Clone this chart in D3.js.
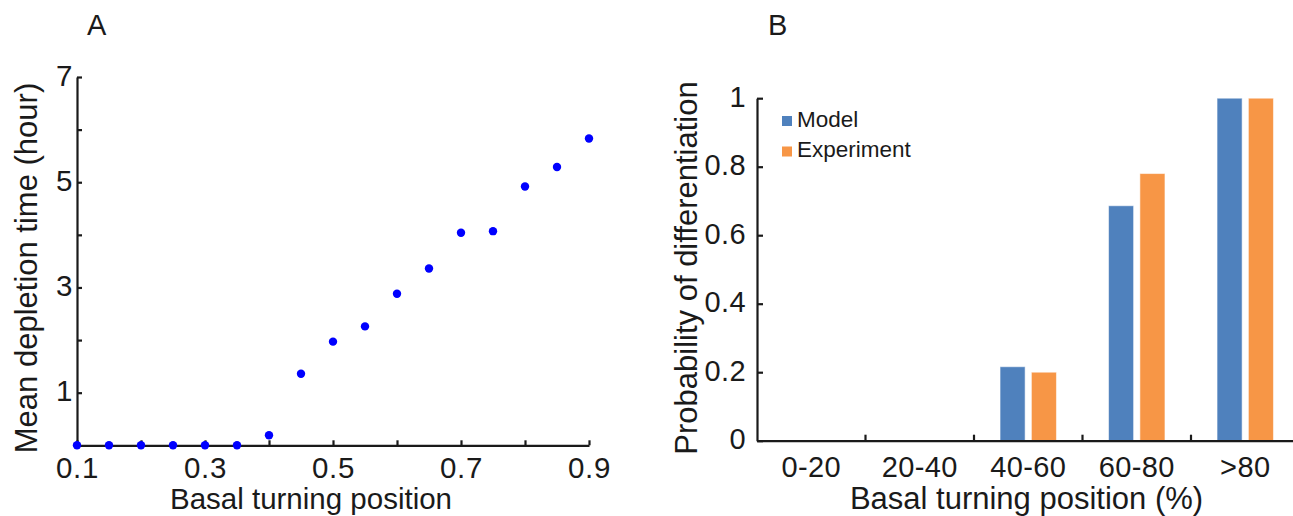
<!DOCTYPE html>
<html><head><meta charset="utf-8">
<script src="https://cdn.jsdelivr.net/npm/d3@7"></script>
<style>
body{margin:0;background:#fff;}
svg{display:block;font-family:"Liberation Sans",Arial,sans-serif;}
</style></head>
<body><svg id="c" width="1293" height="516"></svg>
<script>
// Panel A data
const positionsA = [0.1,0.15,0.2,0.25,0.3,0.35,0.4,0.45,0.5,0.55,0.6,0.65,0.7,0.75,0.8,0.85,0.9];
const depletionTime = [0,0,0,0,0,0,0.19,1.36,1.97,2.26,2.88,3.36,4.04,4.07,4.92,5.29,5.83];
const xTicksA = [0.1,0.2,0.3,0.4,0.5,0.6,0.7,0.8,0.9];
const yTicksA = [1,2,3,4,5,6,7];
// Panel B data
const categoriesB = ["0-20","20-40","40-60","60-80",">80"];
const seriesB = ["Model","Experiment"];
const modelValues = [0,0,0.216,0.686,1];
const experimentValues = [0,0,0.2,0.78,1];
const yTicksB = [0,0.2,0.4,0.6,0.8,1];
const colorsB = ["#4F81BD","#F79646"];

const svg = d3.select("#c");
const ink = "#1a1a1a";

// ---------- Panel A ----------
const xA = d3.scaleLinear().domain([0.1,0.9]).range([77,589]);
const yA = d3.scaleLinear().domain([0,7]).range([445.3,77]);
const gA = svg.append("g");

const axA = gA.append("g").attr("transform","translate(0,445.3)")
  .call(d3.axisBottom(xA).tickValues(xTicksA).tickSize(-5).tickSizeOuter(0).tickPadding(11.5)
    .tickFormat(d => [0.1,0.3,0.5,0.7,0.9].some(v=>Math.abs(v-d)<1e-9) ? d3.format(".1f")(d) : ""));
const ayA = gA.append("g").attr("transform","translate(77,0)")
  .call(d3.axisLeft(yA).tickValues(yTicksA).tickSize(-5).tickSizeOuter(0).tickPadding(4)
    .tickFormat(d => d % 2 ? d : ""));
[axA, ayA].forEach(a=>{
  a.selectAll("path,line").attr("stroke",ink).attr("stroke-width",2.2);
  a.selectAll("text").attr("fill",ink).attr("font-size",29.5).attr("letter-spacing","0.6px")
    .attr("font-family","Liberation Sans, Arial, sans-serif");
});
ayA.selectAll("text").attr("dy","0.28em");

gA.selectAll("circle").data(positionsA).join("circle")
  .attr("cx",(d)=>xA(d)).attr("cy",(d,i)=>yA(depletionTime[i])).attr("r",4.2).attr("fill","#0000FF");

gA.append("text").attr("x",311).attr("y",509).attr("text-anchor","middle")
  .attr("font-size",29.5).attr("fill",ink).text("Basal turning position");
gA.append("text").attr("transform","translate(37,268) rotate(-90)").attr("text-anchor","middle")
  .attr("font-size",31).attr("fill",ink).text("Mean depletion time (hour)");
gA.append("text").attr("x",87).attr("y",35).attr("font-size",29).attr("fill",ink).text("A");

// ---------- Panel B ----------
const xB = d3.scaleBand().domain(categoriesB).range([757,1299.5]).padding(0);
const x1 = d3.scaleBand().domain(seriesB).range([xB.bandwidth()*0.24, xB.bandwidth()*0.76]).paddingInner(0.2);
const yB = d3.scaleLinear().domain([0,1]).range([440.7,98.2]);
const gB = svg.append("g");

const rows = categoriesB.map((c,i)=>({cat:c, vals:[modelValues[i], experimentValues[i]]}));
gB.selectAll("g.cat").data(rows).join("g").attr("class","cat")
  .attr("transform",d=>`translate(${xB(d.cat)},0)`)
  .selectAll("rect").data(d=>d.vals.map((v,j)=>({s:seriesB[j],v,j})).filter(e=>e.v>0)).join("rect")
  .attr("x",e=>x1(e.s)).attr("width",x1.bandwidth())
  .attr("y",e=>yB(e.v)).attr("height",e=>yB(0)-yB(e.v))
  .attr("fill",e=>colorsB[e.j]).attr("stroke","rgba(255,255,255,0.55)").attr("stroke-width",1);

const axB = gB.append("g").attr("transform","translate(0,440.7)")
  .call(d3.axisBottom(xB).tickSize(0).tickPadding(16));
// category boundary ticks
axB.selectAll("line.bt").data(categoriesB.slice(1)).join("line").attr("class","bt")
  .attr("x1",d=>xB(d)).attr("x2",d=>xB(d)).attr("y1",0).attr("y2",-6);
const ayB = gB.append("g").attr("transform","translate(757,0)")
  .call(d3.axisLeft(yB).tickValues(yTicksB).tickSize(-6).tickSizeOuter(0).tickPadding(11)
    .tickFormat(d => d===0||d===1 ? d : d3.format(".1f")(d)));
[axB, ayB].forEach(a=>{
  a.selectAll("path,line").attr("stroke",ink).attr("stroke-width",2.2);
  a.selectAll("text").attr("fill",ink).attr("font-size",29).attr("letter-spacing","0.4px")
    .attr("font-family","Liberation Sans, Arial, sans-serif");
});
ayB.selectAll("text").attr("dy","0.28em");

gB.append("text").attr("x",1026.5).attr("y",509).attr("text-anchor","middle")
  .attr("font-size",31).attr("fill",ink).text("Basal turning position (%)");
gB.append("text").attr("transform","translate(697,268) rotate(-90)").attr("text-anchor","middle")
  .attr("font-size",31).attr("fill",ink).text("Probability of differentiation");
gB.append("text").attr("x",768).attr("y",35).attr("font-size",29).attr("fill",ink).text("B");

// legend
const leg = gB.append("g").attr("transform","translate(782,116)");
seriesB.forEach((s,i)=>{
  leg.append("rect").attr("x",0).attr("y",i*30.5).attr("width",10).attr("height",10).attr("fill",colorsB[i]);
  leg.append("text").attr("x",15).attr("y",i*30.5+10.7).attr("font-size",22.5).attr("fill",ink).text(s);
});
</script></body></html>
